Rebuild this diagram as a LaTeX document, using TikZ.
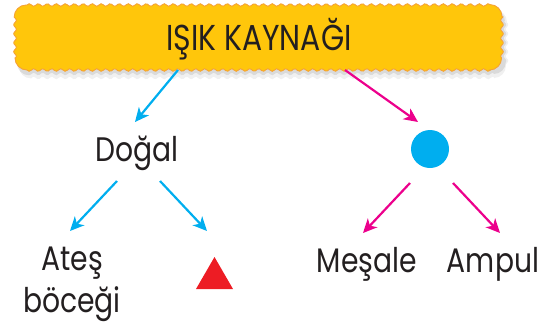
\documentclass[tikz,border=0pt]{standalone}
\usepackage{fontspec}
\setmainfont[FakeStretch=0.83]{Poppins}
\usetikzlibrary{arrows.meta}
\definecolor{cyanA}{HTML}{00AEEF}
\definecolor{pinkA}{HTML}{EC008C}
\definecolor{redA}{HTML}{ED1C24}
\definecolor{yelA}{HTML}{FFC60B}
\definecolor{ornA}{HTML}{F5A236}
\definecolor{txtA}{HTML}{231F20}
\tikzset{
  x=1pt,y=1pt,
  lbl/.style={font=\fontsize{34}{42}\selectfont,text=txtA,inner sep=0pt,anchor=base},
  bluearr/.style={draw=cyanA,line width=2.2pt,-{Stealth[length=14pt,width=13pt,inset=4pt]}},
  pinkarr/.style={draw=pinkA,line width=2.2pt,-{Stealth[length=14pt,width=13pt,inset=4pt]}},
}
\newcommand\bannerpath[4]{% x1,y1 (top-left), x2,y2 (bottom-right)
  (#1+12,#2)
  -- plot[domain=#1+12:#3-12,samples=220,variable=\t] (\t,{#2+1.3*sin(40*mod(\t,9))})
  arc[start angle=90,end angle=0,radius=12]
  -- plot[domain=#2-12:#4+12,samples=40,variable=\t] ({#3+1.3*sin(40*mod(\t,9))},\t)
  arc[start angle=0,end angle=-90,radius=12]
  -- plot[domain=#3-12:#1+12,samples=220,variable=\t] (\t,{#4-1.3*sin(40*mod(\t,9))})
  arc[start angle=270,end angle=180,radius=12]
  -- plot[domain=#4+12:#2-12,samples=40,variable=\t] ({#1-1.3*sin(40*mod(\t,9))},\t)
  arc[start angle=180,end angle=90,radius=12] -- cycle}
\begin{document}
\begin{tikzpicture}
\useasboundingbox (0,0) rectangle (552,-325);
% banner shadow
\fill[black,opacity=0.06] \bannerpath{19}{-10}{507}{-78};
\fill[black,opacity=0.09] \bannerpath{17}{-8}{505}{-74};
% banner
\draw[fill=yelA,draw=ornA,line width=0.9pt] \bannerpath{15}{-5}{502}{-70};
\node[lbl,font=\fontsize{36}{42}\selectfont] (banner) at (259,-50) {IŞIK KAYNAĞI};
\node[lbl] (dogal) at (137,-161) {Doğal};
\node[lbl,align=center] (ates) at (72,-312) {Ateş\\böceği};
\node[lbl] (mesale) at (367,-272) {Meşale};
\node[lbl] (ampul) at (493,-272) {Ampul};
\fill[redA] (196,-289) -- (214.5,-257) -- (233,-289) -- cycle;
\node[circle,fill=cyanA,minimum size=38pt,inner sep=0pt] (dot) at (430,-149) {};
% arrow end points
\coordinate (a1s) at (178,-70);
\coordinate (a1e) at (135,-122);
\coordinate (a2s) at (345,-70);
\coordinate (a2e) at (418,-122);
\coordinate (a3s) at (117,-181);
\coordinate (a3e) at (70,-231);
\coordinate (a4s) at (160,-181);
\coordinate (a4e) at (207,-231);
\coordinate (a5s) at (410,-183);
\coordinate (a5e) at (363,-233);
\coordinate (a6s) at (453,-183);
\coordinate (a6e) at (500,-233);
\draw[bluearr] (a1s) -- (a1e);
\draw[pinkarr] (a2s) -- (a2e);
\draw[bluearr] (a3s) -- (a3e);
\draw[bluearr] (a4s) -- (a4e);
\draw[pinkarr] (a5s) -- (a5e);
\draw[pinkarr] (a6s) -- (a6e);
\end{tikzpicture}
\end{document}
